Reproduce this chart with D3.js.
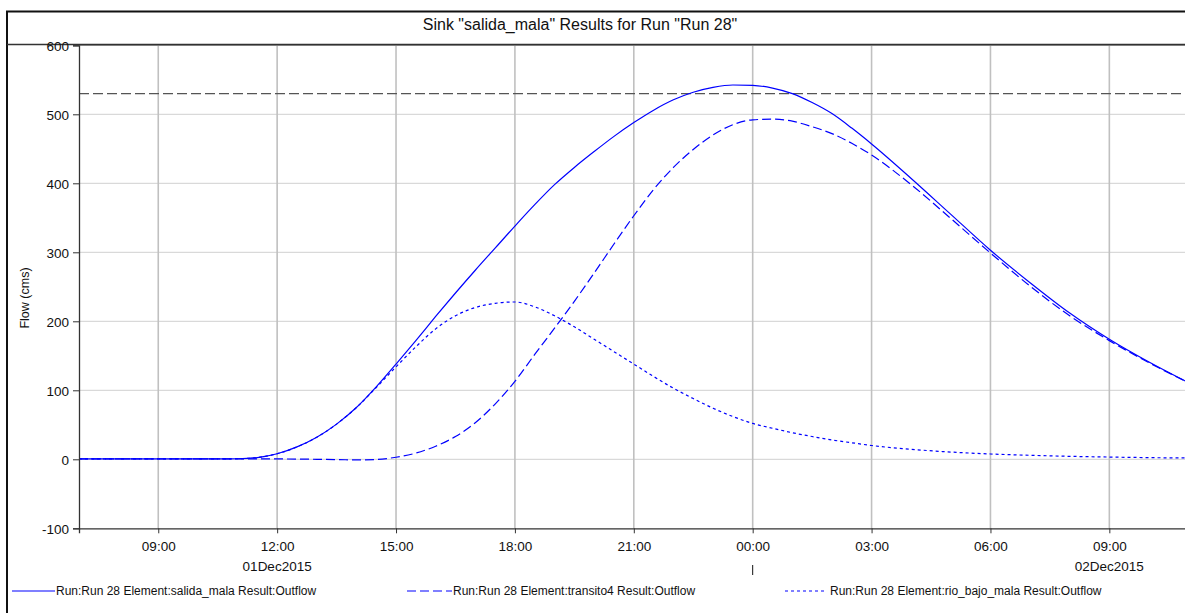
<!DOCTYPE html>
<html>
<head>
<meta charset="utf-8">
<script src="https://cdn.jsdelivr.net/npm/d3@7"></script>
<style>
  html, body { margin: 0; padding: 0; background: #fff; }
  svg { display: block; font-family: "Liberation Sans", Arial, sans-serif; }
</style>
</head>
<body>
<svg id="chart" width="1185" height="613"></svg>
<script>
// ---------------- data ----------------
const titleText = 'Sink "salida_mala" Results for Run "Run 28"';
const yAxisTitle = "Flow (cms)";
const times = [
  "2015-12-01 07:00","2015-12-01 08:00","2015-12-01 09:00","2015-12-01 10:00",
  "2015-12-01 11:00","2015-12-01 11:30","2015-12-01 12:00","2015-12-01 12:30",
  "2015-12-01 13:00","2015-12-01 13:30","2015-12-01 14:00","2015-12-01 14:30",
  "2015-12-01 15:00","2015-12-01 15:30","2015-12-01 16:00","2015-12-01 16:30",
  "2015-12-01 17:00","2015-12-01 17:30","2015-12-01 18:00","2015-12-01 18:30",
  "2015-12-01 19:00","2015-12-01 19:30","2015-12-01 20:00","2015-12-01 20:30",
  "2015-12-01 21:00","2015-12-01 21:30","2015-12-01 22:00","2015-12-01 22:30",
  "2015-12-01 23:00","2015-12-01 23:30","2015-12-02 00:00","2015-12-02 00:30",
  "2015-12-02 01:00","2015-12-02 01:30","2015-12-02 02:00","2015-12-02 02:30",
  "2015-12-02 03:00","2015-12-02 04:00","2015-12-02 05:00","2015-12-02 06:00",
  "2015-12-02 07:00","2015-12-02 08:00","2015-12-02 09:00","2015-12-02 10:00",
  "2015-12-02 11:00"
];
const salidaMala = [0.5,0.5,0.5,0.5,0.8,2.5,8,18,32,51,75,105,138,172,207,241,274,306,338,369,398,423,446,468,488,506,521,532,539,542.5,542,538,530,517,501,480,457,407,355,303,256,212,174,141,111];
const transito4 = [0.5,0.5,0.5,0.5,0.5,0.5,0.5,0.3,0,-0.5,-0.8,-0.3,3,9,19,33,53,80,113,152,190,229,270,312,353,391,423,449,470,485,492,493,490,482,472,458,441,398,349,299,251,208,172,140,111];
const rioBajoMala = [0.5,0.5,0.5,0.5,0.8,2.5,8,18,32,51,75,104,134,163,189,208,220,226,228,221,208,192,174,156,138,120,103,88,74,62,52,45,38.5,33,28,24,20,14.5,10.5,7.7,5.8,4.3,3.3,2.4,1.9];
const thresholdValue = [530];
const seriesNames = [
  "Run:Run 28 Element:salida_mala Result:Outflow",
  "Run:Run 28 Element:transito4 Result:Outflow",
  "Run:Run 28 Element:rio_bajo_mala Result:Outflow"
];
const yTicks = [-100, 0, 100, 200, 300, 400, 500, 600];
const xDomain = ["2015-12-01 07:00", "2015-12-02 11:00"];
const dateLabels = [
  { at: "2015-12-01 12:00", text: "01Dec2015" },
  { at: "2015-12-02 09:00", text: "02Dec2015" }
];
const dayBoundary = ["2015-12-02 00:00"];

// ---------------- drawing ----------------
const parse = d3.timeParse("%Y-%m-%d %H:%M");
const svg = d3.select("#chart");

const pLeft = 79, pRight = 1188.6, pTop = 45.3, pBottom = 528.3;

const x = d3.scaleTime().domain(xDomain.map(parse)).range([pLeft, pRight]);
const y = d3.scaleLinear().domain([-100, 600]).range([pBottom, pTop]);

// outer frame and title box
svg.append("rect").attr("x", 7).attr("y", 11.5).attr("width", 1200).attr("height", 640)
  .attr("fill", "none").attr("stroke", "#111").attr("stroke-width", 2);
svg.append("line").attr("x1", 7).attr("x2", 1190).attr("y1", 44.5).attr("y2", 44.5)
  .attr("stroke", "#333").attr("stroke-width", 1.5);
svg.append("text").attr("x", 580).attr("y", 30).attr("text-anchor", "middle")
  .attr("font-size", "16px").attr("fill", "#111").text(titleText);

// grid
const g = svg.append("g");
g.selectAll("line.hgrid").data(yTicks.filter(v => v > -100 && v < 600)).enter().append("line")
  .attr("class", "hgrid")
  .attr("x1", pLeft).attr("x2", 1185).attr("y1", d => y(d)).attr("y2", d => y(d))
  .attr("stroke", "#d9d9d9").attr("stroke-width", 1.3);
const xTicks = x.ticks(d3.timeHour.every(3));
g.selectAll("line.vgrid").data(xTicks).enter().append("line")
  .attr("class", "vgrid")
  .attr("x1", d => x(d)).attr("x2", d => x(d)).attr("y1", pTop).attr("y2", pBottom)
  .attr("stroke", "#c0c0c0").attr("stroke-width", 1.6);

// clip
svg.append("clipPath").attr("id", "clip").append("rect")
  .attr("x", pLeft).attr("y", pTop).attr("width", pRight - pLeft).attr("height", pBottom - pTop);

// threshold
g.selectAll("line.thr").data(thresholdValue).enter().append("line")
  .attr("class", "thr")
  .attr("x1", pLeft).attr("x2", 1185).attr("y1", d => y(d)).attr("y2", d => y(d))
  .attr("stroke", "#555").attr("stroke-width", 1.4).attr("stroke-dasharray", "10,4");

// series
const parsedTimes = times.map(parse);
const seriesData = [
  { vals: salidaMala, dash: null },
  { vals: transito4, dash: "9,4" },
  { vals: rioBajoMala, dash: "3,3" }
];
const line = d3.line().x(d => x(d[0])).y(d => y(d[1])).curve(d3.curveMonotoneX);
const plot = svg.append("g").attr("clip-path", "url(#clip)");
seriesData.forEach(s => {
  plot.append("path")
    .datum(parsedTimes.map((t, i) => [t, s.vals[i]]))
    .attr("d", line)
    .attr("fill", "none")
    .attr("stroke", "#0000ff")
    .attr("stroke-width", 1.2)
    .attr("stroke-dasharray", s.dash);
});

// axes
const yAxis = d3.axisLeft(y).tickValues(yTicks).tickSize(6).tickPadding(4).tickFormat(d => String(d));
const ya = svg.append("g").attr("transform", `translate(${pLeft},0)`).call(yAxis);
const xAxis = d3.axisBottom(x).tickValues(xTicks).tickSize(5).tickPadding(8).tickFormat(d3.timeFormat("%H:%M"));
const xa = svg.append("g").attr("transform", `translate(0,${pBottom})`).call(xAxis);
[ya, xa].forEach(a => {
  a.select(".domain").attr("stroke", "#333").attr("stroke-width", 1.3);
  a.selectAll(".tick line").attr("stroke", "#333");
  a.selectAll("text").attr("font-size", "13.5px").attr("fill", "#111")
    .attr("font-family", '"Liberation Sans", Arial, sans-serif');
});
ya.selectAll(".tick text").attr("dy", "0.35em");
// plot top border
svg.append("line").attr("x1", pLeft).attr("x2", 1185).attr("y1", pTop - 0.5).attr("y2", pTop - 0.5)
  .attr("stroke", "#333").attr("stroke-width", 1.3);

// y title
svg.append("text").attr("transform", "translate(29,298) rotate(-90)")
  .attr("text-anchor", "middle").attr("font-size", "12.5px").attr("fill", "#111").text(yAxisTitle);

// date labels
svg.selectAll("text.date").data(dateLabels).enter().append("text")
  .attr("class", "date")
  .attr("x", d => Math.min(x(parse(d.at)), 1142))
  .attr("y", 570.5).attr("text-anchor", "middle")
  .attr("font-size", "13.5px").attr("fill", "#111").text(d => d.text);
// day boundary marker
svg.selectAll("line.day").data(dayBoundary).enter().append("line")
  .attr("class", "day")
  .attr("x1", d => x(parse(d))).attr("x2", d => x(parse(d))).attr("y1", 565).attr("y2", 575)
  .attr("stroke", "#111").attr("stroke-width", 1);

// legend
const legendPos = [{ x1: 12, x2: 55, tx: 56 }, { x1: 407, x2: 452, tx: 453 }, { x1: 785, x2: 825, tx: 830 }];
const lg = svg.append("g");
seriesNames.forEach((name, i) => {
  const p = legendPos[i];
  lg.append("line").attr("x1", p.x1).attr("x2", p.x2).attr("y1", 591).attr("y2", 591)
    .attr("stroke", "#0000ff").attr("stroke-width", 1.2).attr("stroke-dasharray", seriesData[i].dash);
  lg.append("text").attr("x", p.tx).attr("y", 595).attr("font-size", "12px").attr("fill", "#111").text(name);
});
</script>
</body>
</html>
